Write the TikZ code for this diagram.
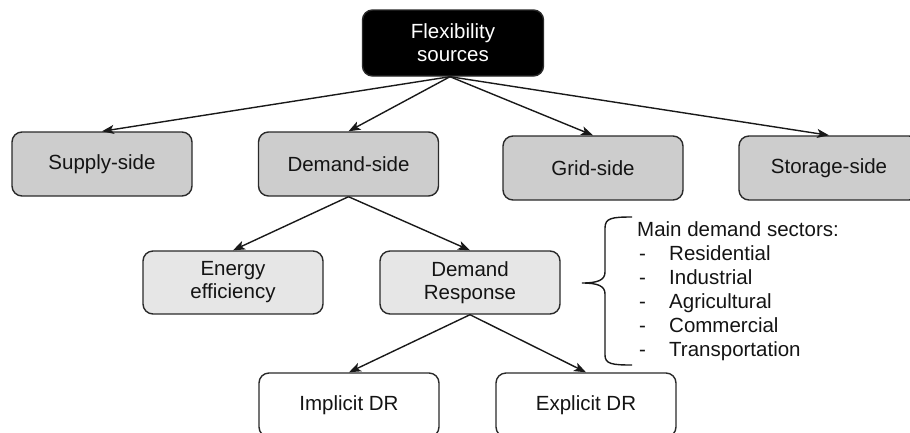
\documentclass[tikz,border=0pt]{standalone}
\usepackage{fontspec}
\setmainfont{Liberation Sans}
\usetikzlibrary{arrows.meta}
\definecolor{boxgray}{HTML}{CDCDCD}
\definecolor{boxlight}{HTML}{E6E6E6}
\definecolor{edgegray}{HTML}{2A2A2A}
\tikzset{
  basebox/.style={draw=edgegray, line width=1.4pt, rounded corners=10pt,
    minimum width=180pt, minimum height=64pt, inner sep=0pt, align=center,
    font=\fontsize{20.5pt}{23pt}\selectfont, text=black!92},
  topbox/.style={basebox, fill=black, text=white, minimum width=181pt, minimum height=66pt},
  graybox/.style={basebox, fill=boxgray},
  lightbox/.style={basebox, fill=boxlight, minimum height=63pt},
  whitebox/.style={basebox, fill=white},
  conn/.style={line width=1.4pt, draw=black!90, -{Stealth[length=12pt,width=9pt,inset=3pt]}},
  listtext/.style={font=\fontsize{20.5pt}{24pt}\selectfont, inner sep=0pt, anchor=north west, align=left, text=black!92}
}
\begin{document}
\begin{tikzpicture}[x=1pt,y=-1pt]
\useasboundingbox (0,0) rectangle (910,432);
\clip (0,0) rectangle (910,432);
\node[topbox] (top) at (453,43) {Flexibility\\sources};
\node[graybox] (supply) at (102,164) {Supply-side};
\node[graybox] (demand) at (348.5,164) {Demand-side};
\node[graybox] (grid) at (593,168) {Grid-side};
\node[graybox] (storage) at (829,168) {Storage-side};
\node[lightbox] (energy) at (233,282.5) {Energy\\efficiency};
\node[lightbox] (dr) at (470,282.5) {Demand\\Response};
\node[whitebox] (implicit) at (349,405) {Implicit DR};
\node[whitebox] (explicit) at (586,405) {Explicit DR};
\coordinate (topout) at ([xshift=-3pt]top.south);
\draw[conn] (topout) -- (supply.north);
\draw[conn] (topout) -- (demand.north);
\draw[conn] (topout) -- (grid.north);
\draw[conn] (topout) -- (storage.north);
\draw[conn] (demand.south) -- (energy.north);
\draw[conn] (demand.south) -- (dr.north);
\draw[conn] (dr.south) -- (implicit.north);
\draw[conn] (dr.south) -- (explicit.north);
% brace
\coordinate (bracetip) at (582,283);
\draw[line width=1.4pt, draw=black!90]
  (632,217) .. controls (612,217) and (605,218) .. (605,228)
  -- (605,272) .. controls (605,280) and (598,283) .. (bracetip)
  .. controls (598,283) and (605,286) .. (605,294)
  -- (605,355) .. controls (605,364) and (612,365) .. (632,365);
\node[listtext] (sectors) at (637,219) {%
  \begin{tabular}{@{}p{32pt}@{}l@{}}
  \multicolumn{2}{@{}l@{}}{Main demand sectors:}\\
  \hspace{2pt}- & Residential\\
  \hspace{2pt}- & Industrial\\
  \hspace{2pt}- & Agricultural\\
  \hspace{2pt}- & Commercial\\
  \hspace{2pt}- & Transportation
  \end{tabular}};
\end{tikzpicture}
\end{document}
